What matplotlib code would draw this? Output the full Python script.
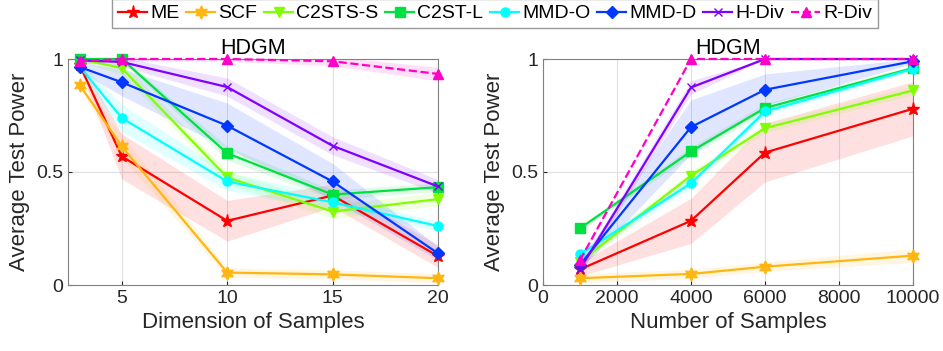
import matplotlib.pyplot as plt
import numpy as np
from matplotlib.lines import Line2D

plt.rcParams['font.family'] = ['Liberation Sans', 'DejaVu Sans']

methods = ["ME", "SCF", "C2STS-S", "C2ST-L", "MMD-O", "MMD-D", "H-Div", "R-Div"]
colors = ["#ff0000", "#ffb612", "#80ff00", "#00e040", "#00ffff", "#0038ff", "#8000ff", "#ff00c8"]
markers = ["*", (6, 1, 0), "v", "s", "o", "D", "x", "^"]

# left panel: power vs dimension
dims = [3, 5, 10, 15, 20]
pow_dim = {
    "ME":      [0.975, 0.569, 0.284, 0.396, 0.128],
    "SCF":     [0.886, 0.613, 0.055, 0.047, 0.030],
    "C2STS-S": [1.000, 0.960, 0.476, 0.325, 0.380],
    "C2ST-L":  [1.000, 1.000, 0.583, 0.400, 0.433],
    "MMD-O":   [0.967, 0.739, 0.458, 0.366, 0.261],
    "MMD-D":   [0.965, 0.897, 0.705, 0.458, 0.140],
    "H-Div":   [0.994, 0.987, 0.876, 0.616, 0.436],
    "R-Div":   [0.990, 1.000, 1.000, 0.990, 0.934],
}
std_dim = {
    "ME":      [0.02, 0.10, 0.09, 0.05, 0.05],
    "SCF":     [0.02, 0.05, 0.02, 0.02, 0.02],
    "C2STS-S": [0.01, 0.03, 0.03, 0.03, 0.03],
    "C2ST-L":  [0.01, 0.01, 0.03, 0.02, 0.02],
    "MMD-O":   [0.02, 0.06, 0.04, 0.03, 0.02],
    "MMD-D":   [0.02, 0.06, 0.10, 0.08, 0.03],
    "H-Div":   [0.01, 0.02, 0.04, 0.04, 0.03],
    "R-Div":   [0.01, 0.01, 0.01, 0.02, 0.03],
}

# right panel: power vs number of samples
nsamp = [1000, 4000, 6000, 10000]
pow_n = {
    "ME":      [0.069, 0.284, 0.586, 0.780],
    "SCF":     [0.030, 0.049, 0.081, 0.130],
    "C2STS-S": [0.103, 0.484, 0.694, 0.861],
    "C2ST-L":  [0.251, 0.591, 0.783, 0.960],
    "MMD-O":   [0.136, 0.450, 0.768, 0.957],
    "MMD-D":   [0.089, 0.699, 0.864, 0.990],
    "H-Div":   [0.070, 0.874, 1.000, 1.000],
    "R-Div":   [0.110, 1.000, 1.000, 1.000],
}
std_n = {
    "ME":      [0.03, 0.10, 0.13, 0.12],
    "SCF":     [0.02, 0.02, 0.02, 0.03],
    "C2STS-S": [0.02, 0.02, 0.02, 0.02],
    "C2ST-L":  [0.01, 0.02, 0.02, 0.01],
    "MMD-O":   [0.02, 0.02, 0.02, 0.01],
    "MMD-D":   [0.02, 0.12, 0.07, 0.01],
    "H-Div":   [0.02, 0.03, 0.00, 0.00],
    "R-Div":   [0.01, 0.00, 0.00, 0.00],
}

fig = plt.figure(figsize=(9.43, 3.51), dpi=100)
ax1 = fig.add_axes([68 / 943, 66 / 351, 370 / 943, 226 / 351])
ax2 = fig.add_axes([543 / 943, 66 / 351, 370 / 943, 226 / 351])


def marker_size(mk):
    if mk in ("*", (6, 1, 0)):
        return 9.5
    if mk == "x":
        return 6
    return 6.5


def draw(ax, x, pw, sd):
    for m, c, mk in zip(methods, colors, markers):
        y = np.array(pw[m])
        s = np.array(sd[m])
        ax.fill_between(x, y - s, y + s, color=c, alpha=0.12, lw=0)
        ls = "--" if m == "R-Div" else "-"
        ax.plot(x, y, ls, color=c, marker=mk, ms=marker_size(mk), lw=1.6,
                clip_on=False, zorder=3)
    ax.set_ylim(0, 1)
    ax.set_yticks([0, 0.5, 1])
    ax.set_yticklabels(["0", "0.5", "1"])
    ax.grid(True, color="#e0e0e0", lw=0.8)
    ax.set_axisbelow(True)
    for sp in ax.spines.values():
        sp.set_color("#808080")
        sp.set_linewidth(0.8)
    ax.tick_params(labelsize=14, colors="#262626", length=3, direction="in")
    ax.set_title("HDGM", fontsize=15.5, pad=3)
    ax.set_ylabel("Average Test Power", fontsize=16, color="#262626")


draw(ax1, dims, pow_dim, std_dim)
ax1.set_xlim(2.45, 20)
ax1.set_xticks([5, 10, 15, 20])
ax1.set_xlabel("Dimension of Samples", fontsize=16, color="#262626")

draw(ax2, nsamp, pow_n, std_n)
ax2.set_xlim(0, 10000)
ax2.set_xticks([0, 2000, 4000, 6000, 8000, 10000])
ax2.set_xlabel("Number of Samples", fontsize=16, color="#262626")

handles = []
for m, c, mk in zip(methods, colors, markers):
    ls = "--" if m == "R-Div" else "-"
    handles.append(Line2D([], [], color=c, ls=ls, marker=mk, ms=marker_size(mk), lw=1.6))
leg = fig.legend(handles, methods, loc="center", bbox_to_anchor=(0.525, 0.961), ncol=8,
                 fontsize=14, handlelength=1.5, handletextpad=0.15, columnspacing=0.35,
                 frameon=True, fancybox=False, borderpad=0.3)
leg.get_frame().set_edgecolor("#808080")

fig.savefig("out.png", dpi=100)
